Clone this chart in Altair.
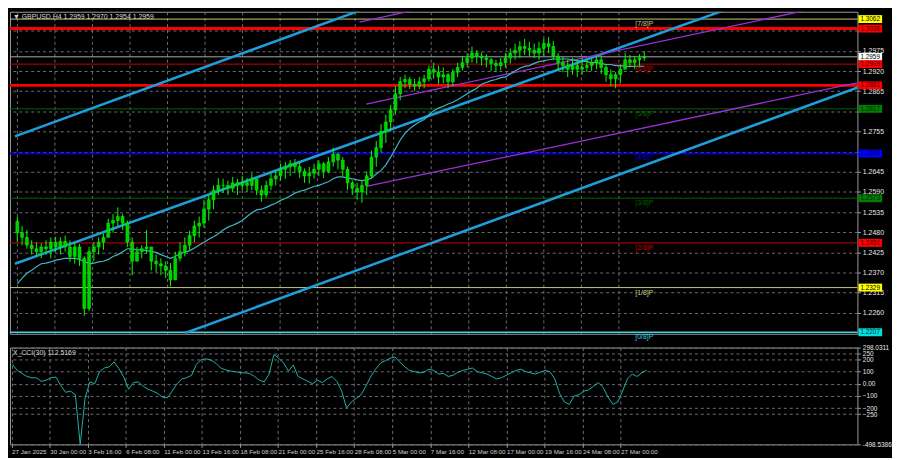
import altair as alt
import pandas as pd

# ---------------- data ----------------
# GBPUSD H4, one candle per ~2 H4 bars (slot index)
highs = [1.2523,1.2497,1.2486,1.2458,1.2453,1.2450,1.2458,1.2466,1.2468,1.2466,
         1.2471,1.2458,1.2453,1.2448,1.2414,1.2440,1.2453,1.2466,1.2476,1.2517,
         1.2530,1.2548,1.2530,1.2512,1.2466,1.2440,1.2445,1.2486,1.2427,1.2419,
         1.2409,1.2401,1.2396,1.2427,1.2453,1.2466,1.2484,1.2512,1.2523,1.2569,
         1.2582,1.2608,1.2628,1.2626,1.2621,1.2631,1.2626,1.2634,1.2628,1.2641,
         1.2626,1.2608,1.2621,1.2641,1.2646,1.2667,1.2672,1.2677,1.2680,1.2672,
         1.2654,1.2659,1.2667,1.2677,1.2672,1.2685,1.2711,1.2698,1.2685,1.2659,
         1.2621,1.2615,1.2621,1.2646,1.2703,1.2729,1.2775,1.2801,1.2827,1.2879,
         1.2904,1.2910,1.2904,1.2899,1.2904,1.2910,1.2935,1.2943,1.2935,1.2930,
         1.2915,1.2925,1.2943,1.2961,1.2969,1.2987,1.2977,1.2971,1.2966,1.2956,
         1.2951,1.2956,1.2969,1.2982,1.2995,1.3002,1.3008,1.3000,1.2995,1.3000,
         1.3008,1.3013,1.3002,1.2969,1.2961,1.2951,1.2956,1.2951,1.2956,1.2951,
         1.2956,1.2961,1.2961,1.2938,1.2925,1.2917,1.2938,1.2969,1.2964,1.2961,
         1.2966,1.2974]
lows = [1.2453,1.2445,1.2435,1.2419,1.2414,1.2409,1.2419,1.2409,1.2425,1.2419,
        1.2427,1.2399,1.2394,1.2388,1.2252,1.2265,1.2401,1.2419,1.2432,1.2466,
        1.2479,1.2497,1.2486,1.2440,1.2363,1.2401,1.2409,1.2422,1.2376,1.2370,
        1.2363,1.2355,1.2332,1.2350,1.2401,1.2414,1.2432,1.2453,1.2466,1.2492,
        1.2512,1.2543,1.2582,1.2587,1.2582,1.2590,1.2582,1.2595,1.2590,1.2595,
        1.2582,1.2564,1.2574,1.2595,1.2608,1.2621,1.2626,1.2634,1.2641,1.2628,
        1.2615,1.2613,1.2626,1.2634,1.2628,1.2641,1.2659,1.2652,1.2634,1.2595,
        1.2582,1.2569,1.2561,1.2582,1.2626,1.2659,1.2698,1.2724,1.2755,1.2801,
        1.2840,1.2873,1.2871,1.2866,1.2871,1.2873,1.2891,1.2899,1.2884,1.2886,
        1.2873,1.2879,1.2904,1.2922,1.2930,1.2943,1.2941,1.2935,1.2930,1.2920,
        1.2917,1.2922,1.2930,1.2941,1.2951,1.2956,1.2964,1.2961,1.2956,1.2951,
        1.2961,1.2969,1.2951,1.2922,1.2917,1.2904,1.2910,1.2904,1.2910,1.2917,
        1.2920,1.2925,1.2912,1.2891,1.2879,1.2873,1.2886,1.2925,1.2930,1.2925,
        1.2930,1.2948]
closes = [1.2479,1.2466,1.2445,1.2435,1.2427,1.2440,1.2435,1.2453,1.2440,1.2455,
          1.2440,1.2414,1.2440,1.2409,1.2272,1.2427,1.2440,1.2453,1.2466,1.2505,
          1.2512,1.2523,1.2505,1.2453,1.2401,1.2427,1.2435,1.2440,1.2401,1.2394,
          1.2388,1.2376,1.2350,1.2409,1.2427,1.2445,1.2471,1.2497,1.2505,1.2543,
          1.2569,1.2595,1.2608,1.2608,1.2600,1.2615,1.2608,1.2615,1.2608,1.2626,
          1.2595,1.2582,1.2608,1.2626,1.2634,1.2652,1.2659,1.2667,1.2659,1.2646,
          1.2634,1.2641,1.2652,1.2667,1.2646,1.2672,1.2693,1.2677,1.2652,1.2615,
          1.2600,1.2590,1.2608,1.2634,1.2685,1.2711,1.2755,1.2781,1.2814,1.2858,
          1.2891,1.2897,1.2884,1.2879,1.2891,1.2899,1.2925,1.2917,1.2904,1.2910,
          1.2891,1.2917,1.2930,1.2943,1.2956,1.2969,1.2961,1.2956,1.2951,1.2941,
          1.2935,1.2943,1.2956,1.2969,1.2977,1.2987,1.2982,1.2977,1.2969,1.2982,
          1.2995,1.2987,1.2961,1.2943,1.2935,1.2925,1.2935,1.2925,1.2930,1.2935,
          1.2943,1.2951,1.2930,1.2910,1.2899,1.2910,1.2925,1.2951,1.2943,1.2951,
          1.2956,1.2959]
first_open = 1.2510

ma = [1.2339,1.2355,1.2368,1.2376,1.2386,1.2394,1.2396,1.2399,1.2404,1.2406,
      1.2409,1.2409,1.2409,1.2406,1.2401,1.2394,1.2396,1.2399,1.2401,1.2406,
      1.2414,1.2419,1.2427,1.2435,1.2435,1.2432,1.2432,1.2430,1.2427,1.2425,
      1.2419,1.2414,1.2409,1.2414,1.2422,1.2425,1.2430,1.2437,1.2445,1.2453,
      1.2461,1.2468,1.2476,1.2486,1.2494,1.2499,1.2505,1.2512,1.2523,1.2533,
      1.2541,1.2543,1.2548,1.2554,1.2559,1.2567,1.2572,1.2579,1.2587,1.2592,
      1.2595,1.2600,1.2605,1.2608,1.2613,1.2618,1.2626,1.2631,1.2631,1.2628,
      1.2626,1.2623,1.2621,1.2623,1.2628,1.2639,1.2649,1.2664,1.2685,1.2708,
      1.2732,1.2750,1.2763,1.2773,1.2781,1.2788,1.2801,1.2812,1.2819,1.2824,
      1.2830,1.2835,1.2842,1.2850,1.2858,1.2866,1.2873,1.2884,1.2889,1.2894,
      1.2897,1.2902,1.2904,1.2912,1.2920,1.2928,1.2933,1.2935,1.2941,1.2946,
      1.2948,1.2951,1.2953,1.2953,1.2953,1.2953,1.2951,1.2948,1.2948,1.2946,
      1.2943,1.2943,1.2941,1.2938,1.2938,1.2935,1.2935,1.2933,1.2933,1.2933,
      1.2933,1.2933]

cci = [160,110,85,60,50,48,20,30,50,55,
       -15,-70,-60,-90,-498.54,-120,15,0,100,130,
       140,180,125,55,-45,10,15,-20,-45,-60,
       -80,-110,-115,-60,0,40,50,70,160,200,
       205,195,170,130,115,105,100,92,90,85,
       60,30,15,80,240,210,170,105,155,60,
       40,20,0,30,10,40,60,20,-60,-200,
       -150,-120,-90,-20,60,120,170,190,210,220,
       180,140,110,100,90,95,120,110,80,85,
       60,70,95,110,120,130,100,90,80,60,
       40,50,70,90,110,120,100,90,80,95,
       110,100,40,-80,-150,-170,-100,-90,-60,-50,
       -20,10,-30,-110,-170,-150,-60,40,80,60,
       90,112.5]

date_labels = ["27 Jan 2025", "30 Jan 00:00", "3 Feb 16:00", "6 Feb 08:00",
               "11 Feb 00:00", "13 Feb 16:00", "18 Feb 08:00", "21 Feb 00:00",
               "25 Feb 16:00", "28 Feb 08:00", "5 Mar 00:00", "7 Mar 16:00",
               "12 Mar 08:00", "17 Mar 00:00", "19 Mar 16:00", "24 Mar 08:00",
               "27 Mar 00:00"]

price_grid = [1.2260, 1.2315, 1.2370, 1.2425, 1.2480, 1.2535, 1.2590, 1.2645,
              1.2700, 1.2755, 1.2810, 1.2865, 1.2920, 1.2975, 1.3030]
hidden_price_labels = [1.2700, 1.2810, 1.3030]   # covered by level boxes

murrey_prices = [1.3062, 1.2939, 1.2817, 1.2695, 1.2573, 1.2451, 1.2329, 1.2207]
murrey_names = ["[7/8]P", "[6/8]P", "[5/8]P", "[4/8]P", "[3/8]P", "[2/8]P", "[1/8]P", "[0/8]P"]
murrey_colors = ["#c8c882", "#c80000", "#006400", "#0000c8", "#006400", "#c80000", "#c8c882", "#40d0e0"]
murrey_widths = [1, 1, 1, 2, 1, 1, 1, 1.5]

sr_prices = [1.3036, 1.2881]
current_price = 1.2959

box_prices = [1.3062, 1.3036, 1.2959, 1.2939, 1.2881, 1.2817, 1.2695, 1.2573, 1.2451, 1.2329, 1.2207]
box_bg = ["#ffff00", "#ff0000", "#ffffff", "#ff0000", "#ff0000", "#008000", "#0000ff", "#008000", "#ff0000", "#ffff00", "#00e0e0"]
box_fg = ["#000000", "#400000", "#000000", "#400000", "#400000", "#002000", "#000040", "#002000", "#400000", "#000000", "#003030"]

# trend lines: (slot, price) end points
trend_names = ["up", "up", "mid", "mid", "low", "low", "pa", "pa", "pb", "pb", "pc", "pc"]
trend_slots = [-0.5, 71.5, -0.5, 147.5, 35.1, 179.5, 72.9, 164.5, 71.5, 82.5, 72.9, 179.5]
trend_prices = [1.2742, 1.3085, 1.2394, 1.3085, 1.2205, 1.2894, 1.2830, 1.3085, 1.3054, 1.3085, 1.2605, 1.2899]
trend_colors = {"up": "#1e9fdc", "mid": "#1e9fdc", "low": "#1e9fdc", "pa": "#9a30d8", "pb": "#9a30d8", "pc": "#9a30d8"}
trend_widths = {"up": 2.5, "mid": 2.5, "low": 2.5, "pa": 1.3, "pb": 1.3, "pc": 1.3}

title_text = "\u25bc GBPUSD,H4  1.2959 1.2970 1.2954 1.2959"
cci_title = "X_CCI(30) 112.5169"

# ---------------- frames ----------------
n = len(closes)
opens = [first_open] + closes[:-1]
candles = pd.DataFrame({"s": list(range(n)), "o": opens, "h": highs, "l": lows, "c": closes})
ma_df = pd.DataFrame({"s": list(range(n)), "ma": ma})
cci_df = pd.DataFrame({"s": list(range(n)), "cci": cci})
murrey_df = pd.DataFrame({"p": murrey_prices, "name": murrey_names, "col": murrey_colors,
                          "w": murrey_widths})
sr_df = pd.DataFrame({"p": sr_prices})
cur_df = pd.DataFrame({"p": [current_price]})
box_df = pd.DataFrame({"p": box_prices, "bg": box_bg, "fg": box_fg,
                       "t": [f"{v:.4f}" for v in box_prices]})
trend_df = pd.DataFrame({"line": trend_names, "s": trend_slots, "p": trend_prices})
trend_df["col"] = trend_df["line"].map(trend_colors)
trend_df["w"] = trend_df["line"].map(trend_widths)

W = 858
HM = 326
HC = 98
FONT = "Liberation Sans"

tick_start, tick_step = -0.16, 7.86
tick_vals = [round(tick_start + tick_step * k, 2) for k in range(len(date_labels))]
lab_js = "[" + ",".join("'" + d + "'" for d in date_labels) + "]"
x_label_expr = f"{lab_js}[round((datum.value - ({tick_start})) / {tick_step})]"

hid_js = " || ".join(f"abs(datum.value - {v}) < 0.00001" for v in hidden_price_labels)
y_label_expr = f"({hid_js}) ? '' : format(datum.value, '.4f')"

xscale = alt.Scale(domain=[-0.5, 174.5], nice=False, zero=False)
yscale = alt.Scale(domain=[1.2203, 1.3082], nice=False, zero=False)
cscale = alt.Scale(domain=[-498.54, 298.03], nice=False, zero=False)

grid_col = "#6e6e6e"
grid_dash = [3, 3]

x_axis_main = alt.Axis(values=tick_vals, grid=True, gridColor=grid_col, gridDash=grid_dash,
                       labels=False, ticks=False, domain=False, title=None)
x_axis_cci = alt.Axis(values=tick_vals, grid=True, gridColor=grid_col, gridDash=grid_dash,
                      labelExpr=x_label_expr, labelAlign="left", labelColor="#d0d0d0",
                      labelFont=FONT, labelFontSize=6.3, labelPadding=1, ticks=True,
                      tickSize=3, tickColor="#a0a0a0", domain=False, title=None,
                      labelOverlap=False, labelFlush=False, labelBound=False)
y_axis_main = alt.Axis(values=price_grid, orient="right", labelExpr=y_label_expr, grid=True,
                       gridColor=grid_col, gridDash=grid_dash, labelColor="#e8e8e8",
                       labelFont=FONT, labelFontSize=7, tickSize=3, tickColor="#a0a0a0",
                       labelPadding=2, domain=False, title=None, labelOverlap=False,
                       minExtent=26, maxExtent=26)
cci_vals = [298.03, 250, 200, 100, 0, -100, -200, -250, -498.54]
y_axis_cci = alt.Axis(values=cci_vals, orient="right", grid=True, gridColor=grid_col,
                      gridDash=grid_dash,
                      labelExpr="datum.value > 290 ? '298.0311' : datum.value < -400 ? '-498.5386' : datum.value == 0 ? '0.00' : format(datum.value, 'd')",
                      labelColor="#e8e8e8", labelFont=FONT, labelFontSize=6.5, tickSize=3,
                      tickColor="#a0a0a0", labelPadding=2, domain=False, title=None,
                      labelOverlap=False, minExtent=26, maxExtent=26)


def X(field="s"):
    return alt.X(f"{field}:Q", scale=xscale, axis=x_axis_main)


def Y(field="p"):
    return alt.Y(f"{field}:Q", scale=yscale, axis=y_axis_main)


grid_base = alt.Chart(pd.DataFrame({"s": [0], "p": [1.25]})).mark_point(opacity=0).encode(x=X(), y=Y())

murrey_lines = alt.Chart(murrey_df).mark_rule().encode(
    y=Y(), color=alt.Color("col:N", scale=None), strokeWidth=alt.StrokeWidth("w:Q", scale=None))
sr_lines = alt.Chart(sr_df).mark_rule(color="#ff0000", strokeWidth=3).encode(y=Y())
cur_line = alt.Chart(cur_df).mark_rule(color="#a8a8a8", strokeWidth=1).encode(y=Y())

trend = alt.Chart(trend_df).mark_line(clip=True).encode(
    x=X(), y=Y(), detail="line:N", color=alt.Color("col:N", scale=None),
    strokeWidth=alt.StrokeWidth("w:Q", scale=None))

ma_line = alt.Chart(ma_df).mark_line(color="#3cb8c8", strokeWidth=1.2).encode(x=X(), y=Y("ma"))

wicks = alt.Chart(candles).mark_rule(color="#00ff00", strokeWidth=1).encode(x=X(), y=Y("l"), y2="h:Q")
bodies = alt.Chart(candles).mark_bar(width=3, color="#00d000", stroke="#00ff00", strokeWidth=0.5).encode(
    x=X(), y=Y("o"), y2="c:Q")

murrey_text = alt.Chart(murrey_df).mark_text(align="center", baseline="top", dy=1, font=FONT,
                                             fontSize=7).encode(
    x=alt.value(W * 655 / 875), y=Y(), text="name:N", color=alt.Color("col:N", scale=None))

boxes = alt.Chart(box_df).mark_rule(strokeWidth=8, strokeCap="butt").encode(
    x=alt.value(W + 1), x2=alt.value(W + 25), y=Y(), color=alt.Color("bg:N", scale=None))
box_text = alt.Chart(box_df).mark_text(align="left", baseline="middle", font=FONT, fontSize=6.5).encode(
    x=alt.value(W + 3), y=Y(), text="t:N", color=alt.Color("fg:N", scale=None))

title = alt.Chart(pd.DataFrame({"t": [title_text]})).mark_text(
    align="left", baseline="middle", font=FONT, fontSize=7, color="#d8d8d8").encode(
    x=alt.value(3), y=alt.value(5), text="t:N")

main = alt.layer(grid_base, murrey_lines, sr_lines, cur_line, trend, ma_line, wicks, bodies,
                 murrey_text, boxes, box_text, title).properties(width=W, height=HM)


def XC(field="s"):
    return alt.X(f"{field}:Q", scale=xscale, axis=x_axis_cci)


cci_line = alt.Chart(cci_df).mark_line(color="#20b2aa", strokeWidth=1).encode(
    x=XC(), y=alt.Y("cci:Q", scale=cscale, axis=y_axis_cci))
cci_t = alt.Chart(pd.DataFrame({"t": [cci_title]})).mark_text(
    align="left", baseline="middle", font=FONT, fontSize=7, color="#d8d8d8").encode(
    x=alt.value(3), y=alt.value(6), text="t:N")
lower = alt.layer(cci_line, cci_t).properties(width=W, height=HC)

chart = alt.vconcat(main, lower, spacing=2).properties(
    background="#000000", padding=0
).configure_view(stroke="#9a9a9a", strokeWidth=1).configure_concat(spacing=2)

chart.save("out.html", embed_options={"renderer": "svg", "actions": False})
